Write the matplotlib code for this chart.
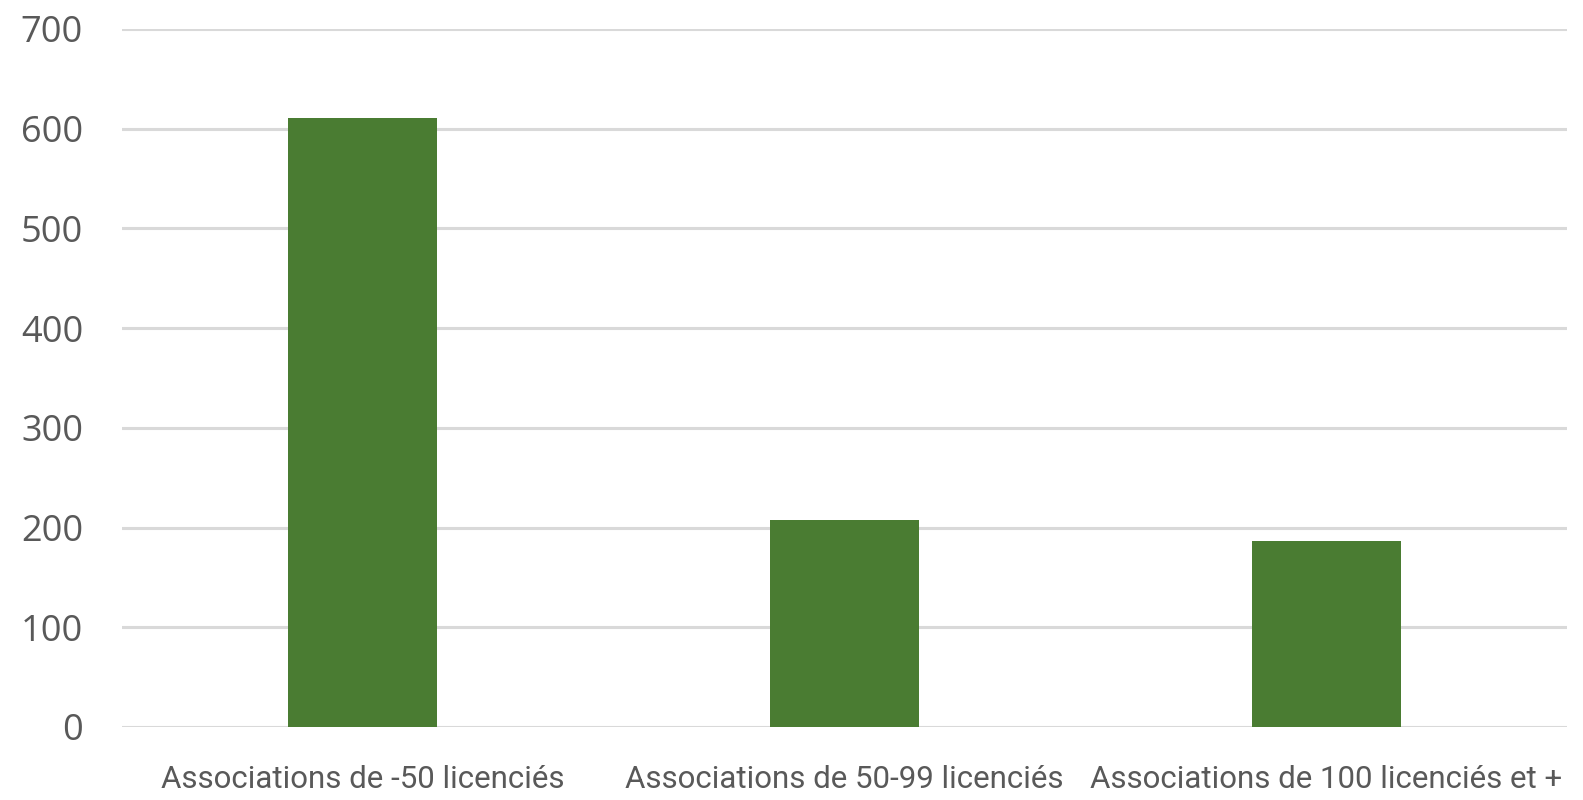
import matplotlib
matplotlib.use("Agg")
import matplotlib.pyplot as plt

categories = ["Associations de -50 licenciés", "Associations de 50-99 licenciés", "Associations de 100 licenciés et +"]
values = [611, 208, 187]
yticks = [0, 100, 200, 300, 400, 500, 600, 700]

fig = plt.figure(figsize=(15.83, 8.0), dpi=100)
ax = fig.add_axes([122/1583, 1-727/800, (1567-122)/1583, (727-29)/800])

x = list(range(len(categories)))
ax.bar(x, values, width=0.31, color="#4a7c32", zorder=3)
ax.set_xlim(-0.5, 2.5)
ax.set_ylim(0, 700)
ax.set_yticks(yticks)
ax.set_yticklabels([str(v) for v in yticks], fontsize=26, color="#595959", family="Open Sans")
ax.set_xticks(x)
ax.set_xticklabels(categories, fontsize=22.5, color="#595959", family="Roboto")
ax.grid(axis="y", color="#d9d9d9", linewidth=2.2, zorder=0)
for s in ax.spines.values():
    s.set_visible(False)
ax.tick_params(axis="y", length=0, pad=28)
ax.tick_params(axis="x", length=0, pad=27)

fig.savefig("out.png", dpi=100, facecolor="white")
